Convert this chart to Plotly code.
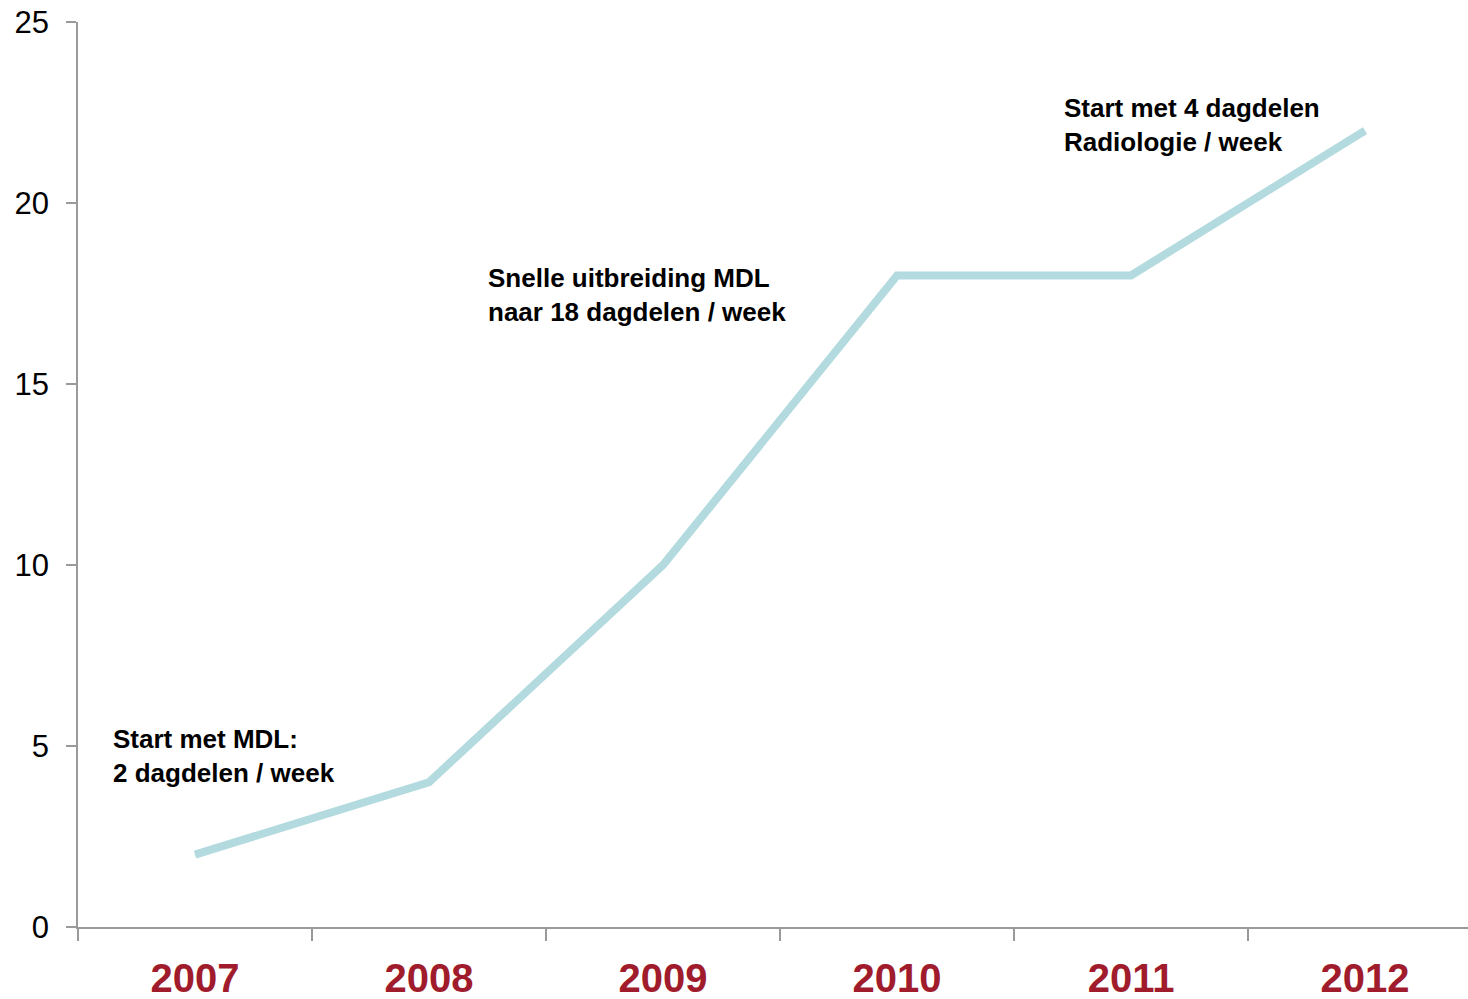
import plotly.graph_objects as go

years = ["2007", "2008", "2009", "2010", "2011", "2012"]
values = [2, 4, 10, 18, 18, 22]
y_ticks = [0, 5, 10, 15, 20, 25]
notes = [
    ("Start met MDL:<br>2 dagdelen / week", -0.36, 4.72),
    ("Snelle uitbreiding MDL<br>naar 18 dagdelen / week", 1.245, 17.46),
    ("Start met 4 dagdelen<br>Radiologie / week", 3.705, 22.15),
]

fig = go.Figure()
fig.add_trace(go.Scatter(
    x=years, y=values, mode="lines",
    line=dict(color="#B3DADF", width=8),
    hoverinfo="skip", showlegend=False,
))

for text, x, y in notes:
    fig.add_annotation(
        x=x, y=y, xref="x", yref="y", text=text, showarrow=False,
        xanchor="left", yanchor="middle", align="left",
        font=dict(family="Liberation Sans, Arial", size=26, color="#000000", weight="bold"),
    )

axis_grey = "#9A9A9A"
fig.update_layout(
    width=1468, height=999,
    margin=dict(l=78, r=0, t=22, b=72),
    paper_bgcolor="white", plot_bgcolor="white",
    font=dict(family="Liberation Sans, Arial"),
    xaxis=dict(
        type="category", range=[-0.5, 5.44],
        tickson="boundaries", ticks="outside", ticklen=12, tickwidth=1.5, tickcolor=axis_grey,
        showline=True, linecolor=axis_grey, linewidth=1.5,
        showgrid=False, zeroline=False,
        tickfont=dict(family="Liberation Sans, Arial", size=40, color="#A01C2C", weight="bold"),
        ticklabelstandoff=15,
    ),
    yaxis=dict(
        range=[0, 25], tickvals=y_ticks, ticktext=[str(v) for v in y_ticks],
        ticks="outside", ticklen=10, tickwidth=1.5, tickcolor=axis_grey,
        showline=True, linecolor=axis_grey, linewidth=1.5,
        showgrid=False, zeroline=False,
        tickfont=dict(family="Liberation Sans, Arial", size=31, color="#000000"),
        ticklabelstandoff=11,
    ),
)

fig.write_html("out.html")
